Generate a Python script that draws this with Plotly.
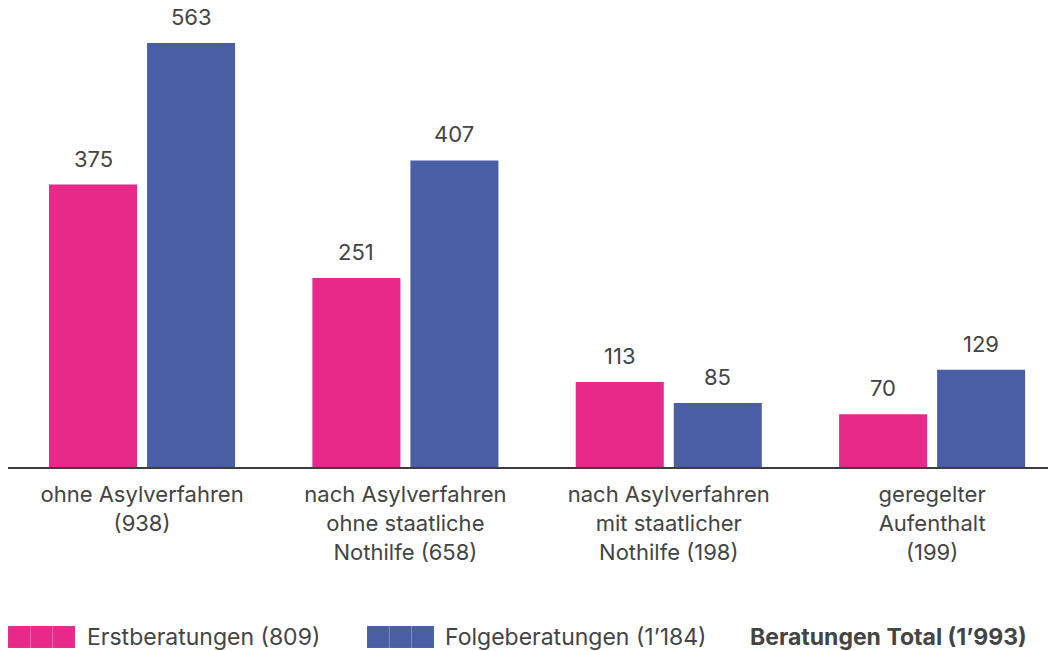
import plotly.graph_objects as go

categories = [
    "ohne Asylverfahren",
    "nach Asylverfahren<br>ohne staatliche<br>Nothilfe",
    "nach Asylverfahren<br>mit staatlicher<br>Nothilfe",
    "geregelter<br>Aufenthalt",
]
erst = [375, 251, 113, 70]
folge = [563, 407, 85, 129]
series_names = ["Erstberatungen", "Folgeberatungen"]
total_label = "Beratungen Total"

PINK = "#E7298A"
BLUE = "#4A5EA6"
TEXT = "#444444"
FONT = "Inter, Roboto, sans-serif"

W, H = 1048, 651
ML, MR, MT, MB = 8, 0, 10, 184


def fmt(n):
    s = f"{n:,}"
    return s.replace(",", "\u2019")


def with_total(cat, tot):
    if cat.count("<br>") >= 2:
        return f"{cat} ({fmt(tot)})"
    return f"{cat}<br>({fmt(tot)})"


cat_totals = [a + b for a, b in zip(erst, folge)]
tick_text = [with_total(c, t) for c, t in zip(categories, cat_totals)]
keys = list(range(len(categories)))

fig = go.Figure()
fig.add_trace(go.Bar(x=keys, y=erst, name=series_names[0], marker_color=PINK,
                     marker_line_width=0, showlegend=False, hoverinfo="skip"))
fig.add_trace(go.Bar(x=keys, y=folge, name=series_names[1], marker_color=BLUE,
                     marker_line_width=0, showlegend=False, hoverinfo="skip"))

# value labels
slot_shift = 49
for i in keys:
    for vals, sh in ((erst, -slot_shift), (folge, slot_shift)):
        fig.add_annotation(x=i, y=vals[i], xref="x", yref="y", text=str(vals[i]),
                           showarrow=False, xshift=sh, yshift=26, yanchor="middle",
                           font=dict(family=FONT, size=22, color=TEXT))

# custom legend
pw = W - ML - MR
ph = H - MT - MB


def px2x(px):
    return (px - ML) / pw


def py2y(py):
    return (H - MB - py) / ph


def swatch(x0, color):
    seg = 67 / 3
    for k in range(3):
        fig.add_shape(type="rect", xref="paper", yref="paper",
                      x0=px2x(x0 + k * seg), x1=px2x(x0 + (k + 1) * seg),
                      y0=py2y(648), y1=py2y(626),
                      fillcolor=color, line=dict(width=0.5, color="rgba(255,255,255,0.12)"))


swatch(8, PINK)
swatch(367, BLUE)
legend_items = [
    (85, f"{series_names[0]} ({fmt(sum(erst))})"),
    (443, f"{series_names[1]} ({fmt(sum(folge))})"),
    (748, f"<b>{total_label} ({fmt(sum(erst) + sum(folge))})</b>"),
]
for px, txt in legend_items:
    fig.add_annotation(xref="paper", yref="paper", x=px2x(px), y=py2y(637),
                       text=txt, showarrow=False, xanchor="left", yanchor="middle",
                       font=dict(family=FONT, size=23, color=TEXT))

fig.update_layout(
    width=W, height=H,
    margin=dict(l=ML, r=MR, t=MT, b=MB),
    plot_bgcolor="white", paper_bgcolor="white",
    barmode="group", bargap=0.2556, bargroupgap=0.102,
    font=dict(family=FONT, size=22, color=TEXT),
)
fig.update_xaxes(
    tickmode="array", tickvals=keys, ticktext=tick_text,
    range=[-0.509, 3.44],
    showline=True, linecolor="#3d3d3d", linewidth=2,
    ticks="outside", ticklen=7, tickcolor="rgba(0,0,0,0)",
    showgrid=False, zeroline=False,
    tickfont=dict(family=FONT, size=22, color=TEXT),
)
fig.update_yaxes(range=[0, 606.8], visible=False, showgrid=False)

fig.write_html("out.html", config={"displayModeBar": False},
               post_script="document.body.style.margin='0';document.body.style.overflow='hidden';")
